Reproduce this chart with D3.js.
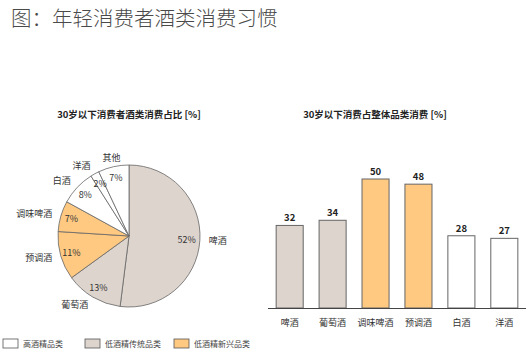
<!DOCTYPE html>
<html>
<head>
<meta charset="utf-8">
<script src="https://cdn.jsdelivr.net/npm/d3@7"></script>
<style>
  body { margin: 0; background: #fff; }
  svg text { font-family: "Noto Sans CJK SC", "Noto Sans", sans-serif; }
</style>
</head>
<body>
<svg id="chart"></svg>
<script>
const WIDTH = 531;
const HEIGHT = 361;

// pie: share of alcohol spending, under-30 consumers
const pieCats = ['啤酒', '葡萄酒', '预调酒', '调味啤酒', '白酒', '洋酒', '其他'];
const pieVals = [52, 13, 11, 7, 8, 2, 7];
const pieGroup = ['trad', 'trad', 'new', 'new', 'high', 'high', 'high'];

// bars: under-30 share of whole category spending
const barCats = ['啤酒', '葡萄酒', '调味啤酒', '预调酒', '白酒', '洋酒'];
const barVals = [32, 34, 50, 48, 28, 27];
const barGroup = ['trad', 'trad', 'new', 'new', 'high', 'high'];

const legendKeys = ['high', 'trad', 'new'];
const legendLabels = ['高酒精品类', '低酒精传统品类', '低酒精新兴品类'];

const color = d3.scaleOrdinal()
    .domain(['high', 'trad', 'new'])
    .range(['#ffffff', '#ddd4cd', '#ffc982']);

const svg = d3.select('#chart')
    .attr('width', WIDTH)
    .attr('height', HEIGHT);

svg.append('text')
    .attr('x', 11)
    .attr('y', 26)
    .attr('fill', '#4a4a4a')
    .style('font-size', '20.5px')
    .style('font-family', '"Noto Sans CJK SC", sans-serif')
    .style('font-weight', 300)
    .text('图：年轻消费者酒类消费习惯');

// ---------- pie ----------
const cx = 129, cy = 236, R = 71;

svg.append('text')
    .attr('x', cx).attr('y', 118)
    .attr('text-anchor', 'middle')
    .style('font-size', '9.5px').style('font-weight', 'bold')
    .attr('fill', '#222')
    .text('30岁以下消费者酒类消费占比 [%]');

const pie = d3.pie().sort(null).value(d => d.v);
const arcs = pie(pieCats.map((c, i) => ({c, v: pieVals[i], g: pieGroup[i]})));
const arc = d3.arc().innerRadius(0).outerRadius(R);

const gPie = svg.append('g').attr('transform', `translate(${cx},${cy})`);

gPie.selectAll('path')
    .data(arcs)
    .enter().append('path')
    .attr('d', arc)
    .attr('fill', d => color(d.data.g))
    .attr('stroke', '#666')
    .attr('stroke-width', 0.8);

const pos = (d, r) => {
    const a = (d.startAngle + d.endAngle) / 2;
    return [r * Math.sin(a), -r * Math.cos(a)];
};
const anchor = d => {
    const s = Math.sin((d.startAngle + d.endAngle) / 2);
    return Math.abs(s) < 0.3 ? 'middle' : (s < 0 ? 'end' : 'start');
};

gPie.selectAll('.pct')
    .data(arcs)
    .enter().append('text')
    .attr('class', 'pct')
    .attr('x', d => pos(d, 60)[0])
    .attr('y', d => pos(d, 60)[1])
    .attr('dy', '0.35em')
    .attr('text-anchor', d => d.index === 0 ? 'end' : 'middle')
    .attr('dx', d => d.index === 0 ? 7 : 0)
    .style('font-size', '9px')
    .attr('fill', '#333')
    .text(d => d.data.v + '%');

gPie.selectAll('.cat')
    .data(arcs)
    .enter().append('text')
    .attr('class', 'cat')
    .attr('x', d => pos(d, 80)[0])
    .attr('y', d => pos(d, 80)[1])
    .attr('dy', '0.35em')
    .attr('text-anchor', anchor)
    .style('font-size', '9px')
    .attr('fill', '#333')
    .text(d => d.data.c);

// ---------- bars ----------
svg.append('text')
    .attr('x', 375).attr('y', 118)
    .attr('text-anchor', 'middle')
    .style('font-size', '9.5px').style('font-weight', 'bold')
    .attr('fill', '#222')
    .text('30岁以下消费占整体品类消费 [%]');

const x = d3.scaleBand()
    .domain(barCats)
    .range([268, 526])
    .paddingInner(0.37)
    .paddingOuter(0.19);

const y = d3.scaleLinear()
    .domain([0, 50])
    .range([308, 179]);

const bars = barCats.map((c, i) => ({c, v: barVals[i], g: barGroup[i]}));

svg.selectAll('.bar')
    .data(bars)
    .enter().append('rect')
    .attr('class', 'bar')
    .attr('x', d => x(d.c))
    .attr('y', d => y(d.v))
    .attr('width', x.bandwidth())
    .attr('height', d => y(0) - y(d.v))
    .attr('fill', d => color(d.g))
    .attr('stroke', '#666')
    .attr('stroke-width', 1);

svg.selectAll('.val')
    .data(bars)
    .enter().append('text')
    .attr('class', 'val')
    .attr('x', d => x(d.c) + x.bandwidth() / 2)
    .attr('y', d => y(d.v) - 4)
    .attr('text-anchor', 'middle')
    .style('font-size', '9.5px').style('font-weight', 'bold')
    .attr('fill', '#222')
    .text(d => d.v);

const xAxis = svg.append('g')
    .attr('transform', `translate(0,${y(0)})`)
    .call(d3.axisBottom(x).tickSize(0).tickPadding(12));
xAxis.select('.domain').attr('stroke', '#444').attr('d', 'M268,0.5H526');
xAxis.selectAll('text')
    .style('font-size', '9px')
    .style('font-family', '"Noto Sans CJK SC", sans-serif')
    .attr('fill', '#333');

// ---------- legend ----------
const legX = d3.scaleOrdinal().domain(legendKeys).range([3, 85, 174]);

const leg = svg.selectAll('.leg')
    .data(legendKeys)
    .enter().append('g')
    .attr('class', 'leg')
    .attr('transform', d => `translate(${legX(d)},339)`);

leg.append('rect')
    .attr('width', 15).attr('height', 9)
    .attr('fill', d => color(d))
    .attr('stroke', '#555')
    .attr('stroke-width', 0.8);

leg.append('text')
    .attr('x', 20).attr('y', 5)
    .attr('dy', '0.35em')
    .style('font-size', '8px')
    .attr('fill', '#444')
    .text((d, i) => legendLabels[i]);
</script>
</body>
</html>
